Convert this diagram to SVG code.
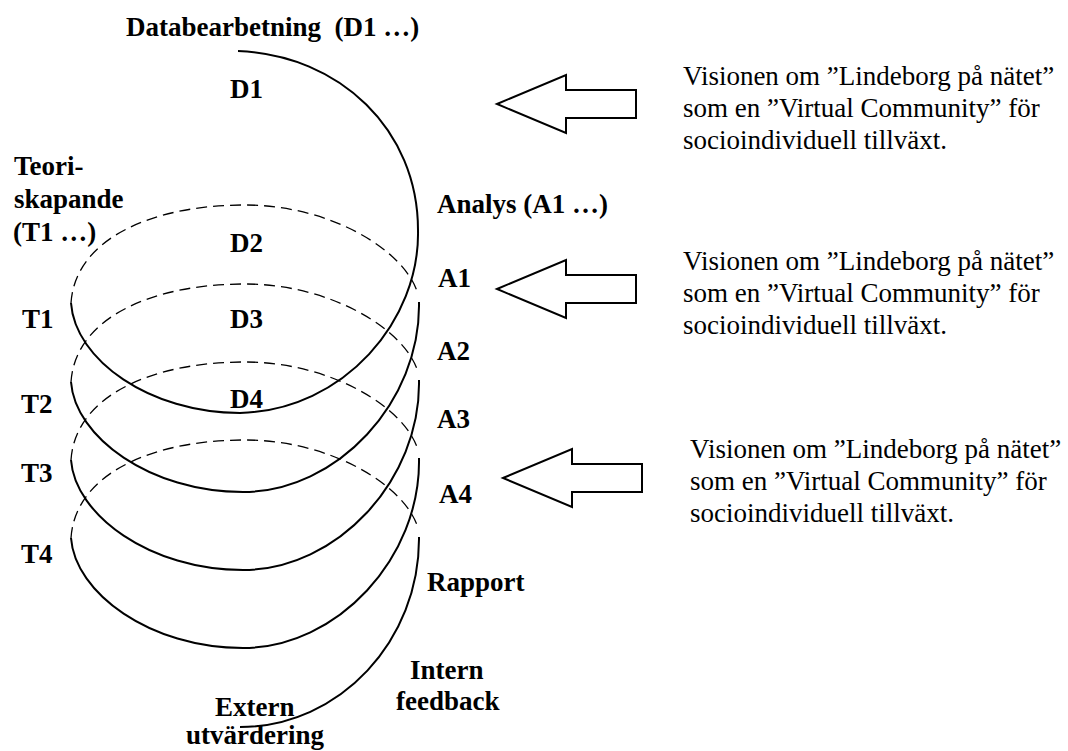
<svg xmlns="http://www.w3.org/2000/svg" xmlns:xlink="http://www.w3.org/1999/xlink" width="1068" height="751" viewBox="0 0 1068 751">
<style>
.b{font-family:"Liberation Serif","Times New Roman",serif;font-weight:bold;font-size:27px;fill:#000}
.r{font-family:"Liberation Serif","Times New Roman",serif;font-size:27px;fill:#000}
.s{fill:none;stroke:#000;stroke-width:2}
.d{fill:none;stroke:#000;stroke-width:1.3;stroke-dasharray:11 6}
.a{fill:#fff;stroke:#000;stroke-width:2;stroke-linejoin:miter}
</style>
<defs>
<path id="arr" d="M497,104 L566,75 L566,90 L636,90 L636,118 L566,118 L566,133 Z"/>
</defs>
<rect width="1068" height="751" fill="#fff"/>
<g id="connectors">
<path class="s" d="M238,51 C340,55 418,130 418,230 C420,320 345,410 240,413 C150,413 75,360 71,303"/>
<path class="d" d="M71,303 C75,240 150,205 245,205 C330,205 405,250 418,294"/>
<path class="s" d="M419,302 C421,402 337,492 243,492 C150,492 75,437 71,382"/>
<path class="d" d="M71,382 C75,319 150,284 245,284 C330,284 405,329 418,372"/>
<path class="s" d="M419,380 C421,480 337,570 243,570 C150,570 75,515 71,460"/>
<path class="d" d="M71,460 C75,397 150,362 245,362 C330,362 405,407 418,450"/>
<path class="s" d="M419,458 C421,558 337,648 243,648 C150,648 75,593 71,538"/>
<path class="d" d="M71,538 C75,475 150,440 245,440 C330,440 405,485 418,528"/>
<path class="s" d="M419,537 C420,640 340,727 240,727"/>
</g>
<g id="arrow1"><use xlink:href="#arr" class="a"/></g>
<g id="arrow2"><use xlink:href="#arr" class="a" transform="translate(0,185)"/></g>
<g id="arrow3"><use xlink:href="#arr" class="a" transform="translate(6,374)"/></g>
<g id="labels">
<text class="b" x="126" y="36" xml:space="preserve">Databearbetning  (D1 …)</text>
<text class="b" x="230" y="98">D1</text>
<text class="b" x="230" y="252">D2</text>
<text class="b" x="230" y="328">D3</text>
<text class="b" x="230" y="408">D4</text>
<text class="b" x="14" y="175">Teori-</text>
<text class="b" x="14" y="208">skapande</text>
<text class="b" x="13" y="241">(T1 …)</text>
<text class="b" x="22" y="328">T1</text>
<text class="b" x="21" y="413">T2</text>
<text class="b" x="21" y="482">T3</text>
<text class="b" x="21" y="563">T4</text>
<text class="b" x="437" y="213">Analys (A1 …)</text>
<text class="b" x="438" y="287">A1</text>
<text class="b" x="437" y="360">A2</text>
<text class="b" x="437" y="428">A3</text>
<text class="b" x="439" y="503">A4</text>
<text class="b" x="427" y="591">Rapport</text>
<text class="b" x="410" y="679">Intern</text>
<text class="b" x="396" y="710">feedback</text>
<text class="b" x="215" y="716">Extern</text>
<text class="b" x="186" y="744">utvärdering</text>
</g>
<g id="vision1">
<text class="r" x="683" y="85">Visionen om ”Lindeborg på nätet”</text>
<text class="r" x="683" y="117">som en ”Virtual Community” för</text>
<text class="r" x="683" y="149">socioindividuell tillväxt.</text>
</g>
<g id="vision2">
<text class="r" x="683" y="270">Visionen om ”Lindeborg på nätet”</text>
<text class="r" x="683" y="302">som en ”Virtual Community” för</text>
<text class="r" x="683" y="334">socioindividuell tillväxt.</text>
</g>
<g id="vision3">
<text class="r" x="690" y="458">Visionen om ”Lindeborg på nätet”</text>
<text class="r" x="690" y="490">som en ”Virtual Community” för</text>
<text class="r" x="690" y="522">socioindividuell tillväxt.</text>
</g>
</svg>
